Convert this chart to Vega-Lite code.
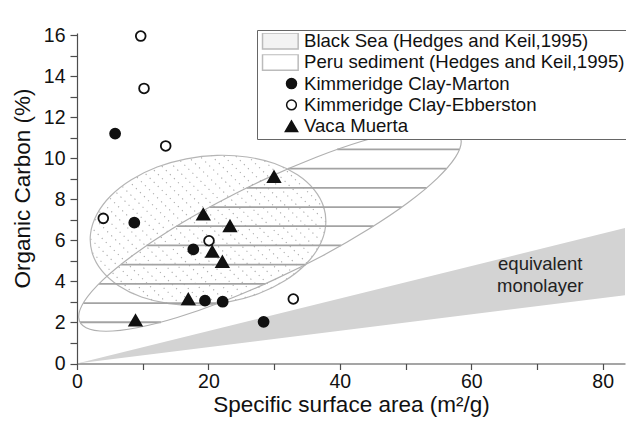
{
  "$schema": "https://vega.github.io/schema/vega-lite/v6.json",
  "width": 548,
  "height": 330.5,
  "autosize": {"type": "none"},
  "padding": {"left": 77, "top": 33, "right": 1, "bottom": 57.5},
  "background": "white",
  "config": {
    "view": {"stroke": null},
    "font": "Liberation Sans",
    "axis": {
      "grid": false,
      "labelFont": "Liberation Sans",
      "labelFontSize": 19.5,
      "labelColor": "#111111",
      "titleFont": "Liberation Sans",
      "titleFontSize": 22.5,
      "titleFontWeight": "normal",
      "titleColor": "#111111",
      "domainColor": "#4d4d4d",
      "tickColor": "#4d4d4d",
      "domainWidth": 1.2,
      "tickWidth": 1.2
    }
  },
  "datasets": {
    "pts": [
      {"x": 5.8, "y": 11.2, "series": "Kimmeridge Clay-Marton"},
      {"x": 8.72, "y": 6.86, "series": "Kimmeridge Clay-Marton"},
      {"x": 17.7, "y": 5.56, "series": "Kimmeridge Clay-Marton"},
      {"x": 19.48, "y": 3.06, "series": "Kimmeridge Clay-Marton"},
      {"x": 22.17, "y": 3.01, "series": "Kimmeridge Clay-Marton"},
      {"x": 28.4, "y": 2.03, "series": "Kimmeridge Clay-Marton"},
      {"x": 9.7, "y": 15.95, "series": "Kimmeridge Clay-Ebberston"},
      {"x": 10.2, "y": 13.4, "series": "Kimmeridge Clay-Ebberston"},
      {"x": 13.5, "y": 10.6, "series": "Kimmeridge Clay-Ebberston"},
      {"x": 4.0, "y": 7.07, "series": "Kimmeridge Clay-Ebberston"},
      {"x": 20.09, "y": 5.98, "series": "Kimmeridge Clay-Ebberston"},
      {"x": 32.92, "y": 3.14, "series": "Kimmeridge Clay-Ebberston"},
      {"x": 29.98, "y": 9.1, "series": "Vaca Muerta"},
      {"x": 19.22, "y": 7.27, "series": "Vaca Muerta"},
      {"x": 23.28, "y": 6.7, "series": "Vaca Muerta"},
      {"x": 20.59, "y": 5.45, "series": "Vaca Muerta"},
      {"x": 22.12, "y": 4.96, "series": "Vaca Muerta"},
      {"x": 16.94, "y": 3.14, "series": "Vaca Muerta"},
      {"x": 8.9, "y": 2.1, "series": "Vaca Muerta"}
    ],
    "peru": [
      {"i": 0, "x": 44.35, "y": 6.54}, {"i": 1, "x": 37.38, "y": 5.25}, {"i": 2, "x": 29.87, "y": 4.06},
      {"i": 3, "x": 22.32, "y": 3.03}, {"i": 4, "x": 15.25, "y": 2.24}, {"i": 5, "x": 9.14, "y": 1.74},
      {"i": 6, "x": 4.41, "y": 1.57}, {"i": 7, "x": 1.38, "y": 1.74}, {"i": 8, "x": 0.26, "y": 2.24},
      {"i": 9, "x": 1.12, "y": 3.03}, {"i": 10, "x": 3.91, "y": 4.06}, {"i": 11, "x": 8.42, "y": 5.25},
      {"i": 12, "x": 14.37, "y": 6.54}, {"i": 13, "x": 21.34, "y": 7.82}, {"i": 14, "x": 28.86, "y": 9.02},
      {"i": 15, "x": 36.4, "y": 10.05}, {"i": 16, "x": 43.48, "y": 10.84}, {"i": 17, "x": 49.58, "y": 11.33},
      {"i": 18, "x": 54.31, "y": 11.5}, {"i": 19, "x": 57.34, "y": 11.33}, {"i": 20, "x": 58.47, "y": 10.84},
      {"i": 21, "x": 57.6, "y": 10.05}, {"i": 22, "x": 54.82, "y": 9.02}, {"i": 23, "x": 50.3, "y": 7.82}
    ],
    "peruHatch": [
      {"y": 2.01, "x": 0.46, "x2": 12.76},
      {"y": 2.94, "x": 0.95, "x2": 21.61},
      {"y": 3.88, "x": 3.35, "x2": 28.67},
      {"y": 4.82, "x": 6.67, "x2": 34.79},
      {"y": 5.75, "x": 10.6, "x2": 40.2},
      {"y": 6.69, "x": 15.14, "x2": 45.1},
      {"y": 7.62, "x": 20.17, "x2": 49.43},
      {"y": 8.56, "x": 25.83, "x2": 53.21},
      {"y": 9.49, "x": 32.14, "x2": 56.24},
      {"y": 10.43, "x": 39.6, "x2": 58.22}
    ],
    "blackSea": [
      {"i": 0, "x": 37.82, "y": 6.66}, {"i": 1, "x": 36.86, "y": 5.71}, {"i": 2, "x": 34.74, "y": 4.81},
      {"i": 3, "x": 31.61, "y": 4.03}, {"i": 4, "x": 27.69, "y": 3.41}, {"i": 5, "x": 23.24, "y": 3.01},
      {"i": 6, "x": 18.57, "y": 2.84}, {"i": 7, "x": 13.99, "y": 2.92}, {"i": 8, "x": 9.81, "y": 3.24},
      {"i": 9, "x": 6.33, "y": 3.79}, {"i": 10, "x": 3.77, "y": 4.52}, {"i": 11, "x": 2.32, "y": 5.38},
      {"i": 12, "x": 2.06, "y": 6.32}, {"i": 13, "x": 3.03, "y": 7.27}, {"i": 14, "x": 5.15, "y": 8.17},
      {"i": 15, "x": 8.27, "y": 8.95}, {"i": 16, "x": 12.19, "y": 9.57}, {"i": 17, "x": 16.64, "y": 9.97},
      {"i": 18, "x": 21.31, "y": 10.14}, {"i": 19, "x": 25.89, "y": 10.06}, {"i": 20, "x": 30.07, "y": 9.74},
      {"i": 21, "x": 33.55, "y": 9.19}, {"i": 22, "x": 36.11, "y": 8.46}, {"i": 23, "x": 37.57, "y": 7.6}
    ],
    "blackSeaHatch": [
      {"x": 8.62, "y": 3.39, "x2": 2.28, "y2": 5.42},
      {"x": 11.4, "y": 3.09, "x2": 2.01, "y2": 6.09},
      {"x": 13.71, "y": 2.93, "x2": 2.22, "y2": 6.61},
      {"x": 15.77, "y": 2.86, "x2": 2.68, "y2": 7.05},
      {"x": 17.67, "y": 2.84, "x2": 3.31, "y2": 7.43},
      {"x": 19.45, "y": 2.85, "x2": 4.06, "y2": 7.78},
      {"x": 21.12, "y": 2.9, "x2": 4.9, "y2": 8.09},
      {"x": 22.71, "y": 2.98, "x2": 5.83, "y2": 8.38},
      {"x": 24.23, "y": 3.08, "x2": 6.84, "y2": 8.64},
      {"x": 25.67, "y": 3.2, "x2": 7.91, "y2": 8.88},
      {"x": 27.05, "y": 3.34, "x2": 9.04, "y2": 9.1},
      {"x": 28.37, "y": 3.5, "x2": 10.25, "y2": 9.3},
      {"x": 29.63, "y": 3.68, "x2": 11.51, "y2": 9.48},
      {"x": 30.84, "y": 3.88, "x2": 12.83, "y2": 9.64},
      {"x": 31.97, "y": 4.1, "x2": 14.21, "y2": 9.78},
      {"x": 33.05, "y": 4.34, "x2": 15.65, "y2": 9.9},
      {"x": 34.05, "y": 4.6, "x2": 17.17, "y2": 10.0},
      {"x": 34.98, "y": 4.89, "x2": 18.76, "y2": 10.08},
      {"x": 35.83, "y": 5.2, "x2": 20.43, "y2": 10.13},
      {"x": 36.57, "y": 5.55, "x2": 22.21, "y2": 10.15},
      {"x": 37.2, "y": 5.94, "x2": 24.11, "y2": 10.12},
      {"x": 37.66, "y": 6.37, "x2": 26.17, "y2": 10.05},
      {"x": 37.87, "y": 6.89, "x2": 28.48, "y2": 9.89},
      {"x": 37.61, "y": 7.56, "x2": 31.26, "y2": 9.59}
    ],
    "mono": [
      {"x": 0, "y": 0, "y2": 0},
      {"x": 83.4, "y": 6.6, "y2": 3.33}
    ],
    "labels": [
      {"x": 70.5, "y": 4.55, "label": "equivalent\nmonolayer"}
    ]
  },
  "encoding": {
    "x": {
      "field": "x", "type": "quantitative",
      "scale": {"domain": [0, 83.4], "nice": false, "zero": false},
      "axis": {
        "title": "Specific surface area (m²/g)",
        "values": [0, 10, 20, 30, 40, 50, 60, 70, 80],
        "labelExpr": "datum.value % 20 === 0 ? datum.label : ''",
        "labelFlush": false,
        "labelOverlap": false,
        "tickSize": 6,
        "labelPadding": 3,
        "titlePadding": 2
      }
    },
    "y": {
      "field": "y", "type": "quantitative",
      "scale": {"domain": [0, 16.1], "nice": false, "zero": false},
      "axis": {
        "title": "Organic Carbon (%)",
        "values": [0, 1, 2, 3, 4, 5, 6, 7, 8, 9, 10, 11, 12, 13, 14, 15, 16],
        "labelExpr": "datum.value % 2 === 0 ? datum.label : ''",
        "labelOverlap": false,
        "tickSize": 7,
        "labelPadding": 5,
        "titlePadding": 9,
        "titleY": 155
      }
    }
  },
  "layer": [
    {
      "data": {"name": "mono"},
      "mark": {"type": "area", "color": "#d3d3d3", "opacity": 1},
      "encoding": {"y2": {"field": "y2"}}
    },
    {
      "data": {"name": "blackSeaHatch"},
      "mark": {"type": "rule", "color": "#ababab", "strokeWidth": 1.1, "strokeDash": [1.2, 4.5]},
      "encoding": {"x2": {"field": "x2"}, "y2": {"field": "y2"}}
    },
    {
      "data": {"name": "blackSea"},
      "mark": {"type": "line", "interpolate": "cardinal-closed", "color": "#b5b5b5", "strokeWidth": 1.2},
      "encoding": {"order": {"field": "i", "type": "quantitative"}}
    },
    {
      "data": {"name": "peruHatch"},
      "mark": {"type": "rule", "color": "#a3a3a3", "strokeWidth": 1.8},
      "encoding": {"x2": {"field": "x2"}}
    },
    {
      "data": {"name": "peru"},
      "mark": {"type": "line", "interpolate": "cardinal-closed", "color": "#b0b0b0", "strokeWidth": 1.2},
      "encoding": {"order": {"field": "i", "type": "quantitative"}}
    },
    {
      "data": {"name": "pts"},
      "mark": {"type": "point", "filled": true, "opacity": 1, "strokeWidth": 1.8},
      "encoding": {
        "shape": {
          "field": "series", "type": "nominal",
          "scale": {
            "domain": ["Black Sea (Hedges and Keil,1995)", "Peru sediment (Hedges and Keil,1995)", "Kimmeridge Clay-Marton", "Kimmeridge Clay-Ebberston", "Vaca Muerta"],
            "range": ["M-1.61,-0.44H0.37V0.44H-1.61Z", "M-1.61,-0.44H0.37V0.44H-1.61Z", "circle", "circle", "triangle-up"]
          },
          "legend": {
            "title": null,
            "orient": "none",
            "legendX": 180,
            "legendY": -3,
            "direction": "vertical",
            "padding": 3,
            "strokeColor": "#666666",
            "fillColor": "white",
            "labelFont": "Liberation Sans",
            "labelFontSize": 18.6,
            "labelColor": "#111111",
            "labelLimit": 400,
            "clipHeight": 16,
            "rowPadding": 2.3,
            "symbolOffset": 12.5,
            "labelOffset": -6.5,
            "symbolStrokeWidth": 1.5,
            "encode": {
              "symbols": {
                "update": {
                  "size": {"signal": "datum.value === 'Kimmeridge Clay-Marton' || datum.value === 'Kimmeridge Clay-Ebberston' ? 55 : datum.value === 'Vaca Muerta' ? 90 : 1296"}
                }
              }
            }
          }
        },
        "fill": {
          "field": "series", "type": "nominal",
          "scale": {
            "domain": ["Black Sea (Hedges and Keil,1995)", "Peru sediment (Hedges and Keil,1995)", "Kimmeridge Clay-Marton", "Kimmeridge Clay-Ebberston", "Vaca Muerta"],
            "range": ["#f3f3f3", "#ffffff", "#111111", "#ffffff", "#111111"]
          }
        },
        "stroke": {
          "field": "series", "type": "nominal",
          "scale": {
            "domain": ["Black Sea (Hedges and Keil,1995)", "Peru sediment (Hedges and Keil,1995)", "Kimmeridge Clay-Marton", "Kimmeridge Clay-Ebberston", "Vaca Muerta"],
            "range": ["#bbbbbb", "#bbbbbb", "#111111", "#111111", "#111111"]
          }
        },
        "size": {
          "field": "series", "type": "nominal",
          "scale": {
            "type": "ordinal",
            "domain": ["Black Sea (Hedges and Keil,1995)", "Peru sediment (Hedges and Keil,1995)", "Kimmeridge Clay-Marton", "Kimmeridge Clay-Ebberston", "Vaca Muerta"],
            "range": [1296, 1296, 100, 95, 150]
          }
        }
      }
    },
    {
      "data": {"name": "labels"},
      "mark": {"type": "text", "font": "Liberation Sans", "fontSize": 18.5, "color": "#222222", "align": "center", "baseline": "alphabetic", "lineBreak": "\n", "lineHeight": 21.7},
      "encoding": {"text": {"field": "label"}}
    }
  ]
}
